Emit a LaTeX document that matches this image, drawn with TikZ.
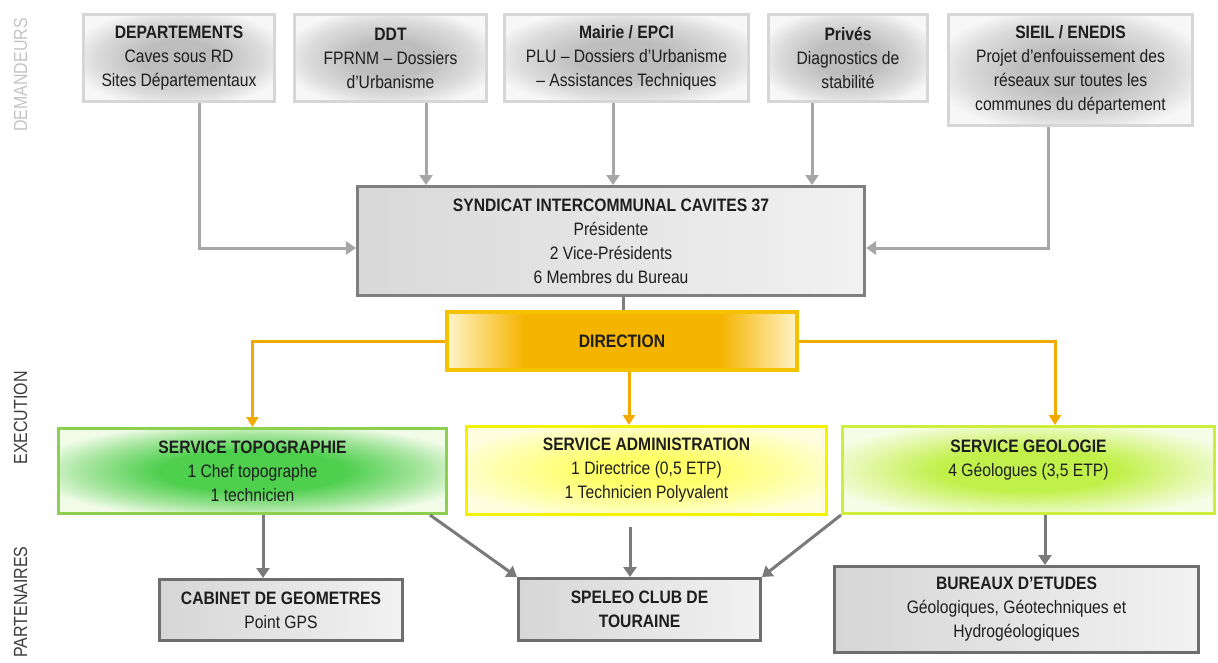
\documentclass[tikz,border=0pt]{standalone}
\usepackage{fontspec}
\setmainfont{Liberation Sans}[FakeStretch=0.87]
\newfontfamily\sidefont{Liberation Sans}[FakeStretch=0.84]
\usetikzlibrary{arrows.meta,calc}

\definecolor{txt}{HTML}{1E1E1E}
\definecolor{topC}{HTML}{BDBDBD}
\definecolor{topM}{HTML}{DCDCDC}
\definecolor{topE}{HTML}{F7F7F7}
\definecolor{topB}{HTML}{D6D6D6}
\definecolor{synL}{HTML}{D9D9D9}
\definecolor{synR}{HTML}{F1F1F1}
\definecolor{synB}{HTML}{7F7F7F}
\definecolor{dirE}{HTML}{FFF4C8}
\definecolor{dirM}{HTML}{F5B400}
\definecolor{dirB}{HTML}{F5C200}
\definecolor{topoC}{HTML}{4ECF4E}
\definecolor{topoM}{HTML}{A8E6A0}
\definecolor{topoE}{HTML}{F0FBE8}
\definecolor{topoB}{HTML}{8DD04F}
\definecolor{admC}{HTML}{FFFF66}
\definecolor{admM}{HTML}{FFFFA8}
\definecolor{admE}{HTML}{FFFDE0}
\definecolor{admB}{HTML}{F5F200}
\definecolor{geoC}{HTML}{C2F04A}
\definecolor{geoM}{HTML}{E2F8A8}
\definecolor{geoE}{HTML}{F6FDE6}
\definecolor{geoB}{HTML}{CDEE3C}
\definecolor{botL}{HTML}{D6D6D6}
\definecolor{botR}{HTML}{F2F2F2}
\definecolor{botB}{HTML}{6E6E6E}
\definecolor{garrC}{HTML}{A6A6A6}
\definecolor{barrC}{HTML}{7A7A7A}
\definecolor{oarrC}{HTML}{F2A900}
\definecolor{sideL}{HTML}{C4C4C4}
\definecolor{sideD}{HTML}{3C3C3C}

\pgfdeclareradialshading{topglow}{\pgfpoint{0bp}{0bp}}{color(0bp)=(topC); color(10bp)=(topC); color(22bp)=(topM); color(29bp)=(topE); color(50bp)=(topE)}
\pgfdeclareradialshading{topoglow}{\pgfpoint{0bp}{0bp}}{color(0bp)=(topoC); color(12bp)=(topoC); color(22bp)=(topoM); color(29bp)=(topoE); color(50bp)=(topoE)}
\pgfdeclareradialshading{admglow}{\pgfpoint{0bp}{0bp}}{color(0bp)=(admC); color(8bp)=(admC); color(20bp)=(admM); color(29bp)=(admE); color(50bp)=(admE)}
\pgfdeclareradialshading{geoglow}{\pgfpoint{0bp}{0bp}}{color(0bp)=(geoC); color(12bp)=(geoC); color(22bp)=(geoM); color(29bp)=(geoE); color(50bp)=(geoE)}
\pgfdeclarehorizontalshading{dirshade}{100bp}{color(0bp)=(dirE); color(25bp)=(dirE); color(36bp)=(dirM); color(64bp)=(dirM); color(75bp)=(dirE); color(100bp)=(dirE)}

\newcommand\mainsize{\fontsize{18}{24}\selectfont}

\tikzset{
  box/.style={draw, line width=3pt, inner sep=0pt, align=center, text=txt, font=\mainsize},
  topbox/.style={box, draw=topB, shade, shading=topglow},
  synbox/.style={box, draw=synB, left color=synL, right color=synR},
  dirbox/.style={box, draw=dirB, line width=4pt, shade, shading=dirshade},
  topobox/.style={box, draw=topoB, shade, shading=topoglow},
  admbox/.style={box, draw=admB, shade, shading=admglow},
  geobox/.style={box, draw=geoB, shade, shading=geoglow},
  botbox/.style={box, draw=botB, left color=botL, right color=botR},
  garr/.style={draw=garrC, line width=3pt, -{Triangle[length=10pt,width=13pt]}},
  barr/.style={draw=barrC, line width=3pt, -{Triangle[length=10pt,width=13pt]}},
  oarr/.style={draw=oarrC, line width=3pt, -{Triangle[length=10pt,width=12pt]}},
  dline/.style={draw=synB, line width=3pt},
  sidelab/.style={rotate=90, font=\sidefont\fontsize{19}{22}\selectfont},
}

\begin{document}
\begin{tikzpicture}[x=1pt,y=-1pt]
\useasboundingbox (0,0) rectangle (1218,662);

% side labels
\node[sidelab, text=sideL] (lab1) at (20.5,75) {DEMANDEURS};
\node[sidelab, text=sideD] (lab2) at (20.5,418) {EXECUTION};
\node[sidelab, text=sideD] (lab3) at (20.5,602) {PARTENAIRES};

% top row
\node[topbox, minimum width=191, minimum height=87] (dep) at (179,58)
  {\textbf{DEPARTEMENTS}\\Caves sous RD\\Sites Départementaux};
\node[topbox, minimum width=192, minimum height=87] (ddt) at (390.5,58)
  {\textbf{DDT}\\FPRNM – Dossiers\\d’Urbanisme};
\node[topbox, minimum width=244, minimum height=87] (mairie) at (626.5,58)
  {\textbf{Mairie / EPCI}\\PLU – Dossiers d’Urbanisme\\– Assistances Techniques};
\node[topbox, minimum width=159, minimum height=87] (prives) at (848,58)
  {\textbf{Privés}\\Diagnostics de\\stabilité};
\node[topbox, minimum width=244, minimum height=111] (sieil) at (1070.5,70)
  {\textbf{SIEIL / ENEDIS}\\Projet d’enfouissement des\\réseaux sur toutes les\\communes du département};

% central
\node[synbox, minimum width=507, minimum height=109] (syn) at (611,241)
  {\textbf{SYNDICAT INTERCOMMUNAL CAVITES 37}\\Présidente\\2 Vice-Présidents\\6 Membres du Bureau};
\node[dirbox, minimum width=350, minimum height=58] (dir) at (622,341)
  {\textbf{DIRECTION}};

% services
\node[topobox, minimum width=388, minimum height=85] (topo) at (252.5,471)
  {\textbf{SERVICE TOPOGRAPHIE}\\1 Chef topographe\\1 technicien};
\node[admbox, minimum width=360, minimum height=88] (admin) at (646.5,470.5)
  {\textbf{SERVICE ADMINISTRATION}\\1 Directrice (0,5 ETP)\\1 Technicien Polyvalent};
\node[geobox, minimum width=372, minimum height=87] (geol) at (1028.5,470)
  {\textbf{SERVICE GEOLOGIE}\\4 Géologues (3,5 ETP)\\\mbox{}};

% partners
\node[botbox, minimum width=243, minimum height=61] (cab) at (281,610)
  {\textbf{CABINET DE GEOMETRES}\\Point GPS};
\node[botbox, minimum width=242, minimum height=62] (spel) at (639.5,609.5)
  {\textbf{SPELEO CLUB DE}\\\textbf{TOURAINE}};
\node[botbox, minimum width=364, minimum height=86] (bur) at (1016.5,609.5)
  {\textbf{BUREAUX D’ETUDES}\\Géologiques, Géotechniques et\\Hydrogéologiques};

% helper x positions
\coordinate (cddt) at (426,0);
\coordinate (cmai) at (613,0);
\coordinate (cpri) at (812,0);
\coordinate (cdir) at (623,0);
\coordinate (cadm) at (629,0);
\coordinate (cgeo) at (1055,0);
\coordinate (ccab) at (263,0);
\coordinate (ctsp) at (430,0);
\coordinate (cadm2) at (630,0);
\coordinate (cbur) at (1045,0);

% connectors top
\draw[garr] ($(dep.south)+(20,0)$) |- ($(syn.west)+(0,7)$);
\draw[garr] (ddt.south -| cddt) -- (syn.north -| cddt);
\draw[garr] (mairie.south -| cmai) -- (syn.north -| cmai);
\draw[garr] (prives.south -| cpri) -- (syn.north -| cpri);
\draw[garr] ($(sieil.south)+(-22.5,0)$) |- ($(syn.east)+(0,7)$);

% syndicat -> direction
\draw[dline] (syn.south -| cdir) -- (dir.north -| cdir);

% direction -> services
\draw[oarr] (dir.west) -| (topo.north);
\draw[oarr] (dir.south -| cadm) -- (admin.north -| cadm);
\draw[oarr] (dir.east) -| (geol.north -| cgeo);

% services -> partners
\draw[barr] (topo.south -| ccab) -- (cab.north -| ccab);
\draw[barr] (topo.south -| ctsp) -- (spel.north west);
\draw[barr] ($(admin.south -| cadm2)+(0,11)$) -- (spel.north -| cadm2);
\draw[barr] (geol.south west) -- (spel.north east);
\draw[barr] (geol.south -| cbur) -- (bur.north -| cbur);
\end{tikzpicture}
\end{document}
